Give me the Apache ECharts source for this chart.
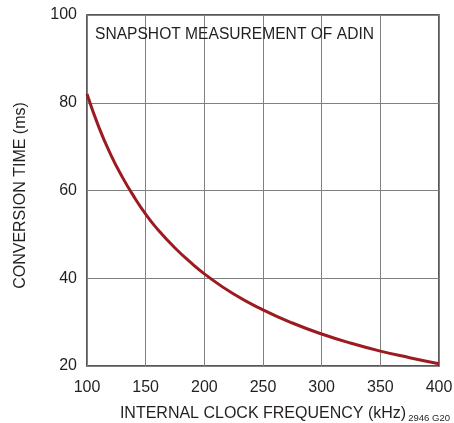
<!DOCTYPE html>
<html>
<head>
<meta charset="utf-8">
<script src="https://cdn.jsdelivr.net/npm/echarts@6/dist/echarts.min.js"></script>
<style>
html, body { margin: 0; padding: 0; background: #fff; }
#chart { width: 454px; height: 423px; }
</style>
</head>
<body>
<div id="chart"></div>
<script>
// clock frequency (kHz) and conversion time (ms)
var freqKHz = [100, 110, 120, 130, 140, 150, 160, 175, 190, 200, 225, 250, 275, 300, 325, 350, 375, 400];
var convTime = [82, 74.5, 68.3, 63.1, 58.6, 54.6, 51.2, 46.9, 43.2, 41, 36.4, 32.8, 29.8, 27.3, 25.2, 23.4, 21.9, 20.5];

var points = [];
for (var i = 0; i < freqKHz.length; i++) {
  points.push([freqKHz[i], convTime[i]]);
}

var font = '"Liberation Sans Narrow", "Liberation Sans", Arial, sans-serif';
var myChart = echarts.init(document.getElementById('chart'));

myChart.setOption({
  animation: false,
  backgroundColor: '#fff',
  grid: {
    left: 87,
    right: 15,
    top: 15,
    bottom: 57,
    outerBoundsMode: 'none',
    containLabel: false,
    show: true,
    borderColor: '#231f20',
    borderWidth: 1.5
  },
  title: {
    text: 'SNAPSHOT MEASUREMENT OF ADIN',
    left: 90,
    top: 22,
    textStyle: { fontFamily: font, fontSize: 15.6, fontWeight: 'normal', color: '#231f20' }
  },
  graphic: [{
    type: 'text',
    right: 4,
    top: 413,
    style: { text: '2946 G20', font: '9.5px ' + font, fill: '#231f20' }
  }],
  xAxis: {
    type: 'value',
    min: 100,
    max: 400,
    interval: 50,
    name: 'INTERNAL CLOCK FREQUENCY (kHz)',
    nameLocation: 'middle',
    nameGap: 40,
    nameTextStyle: { fontFamily: font, fontSize: 16, color: '#231f20' },
    axisLine: { show: false },
    axisTick: { show: false },
    axisLabel: { margin: 14, fontFamily: font, fontSize: 16, color: '#231f20' },
    splitLine: { lineStyle: { color: '#808080', width: 1 } }
  },
  yAxis: {
    type: 'value',
    min: 20,
    max: 100,
    interval: 20,
    name: 'CONVERSION TIME (ms)',
    nameLocation: 'middle',
    nameGap: 58,
    nameTextStyle: { fontFamily: font, fontSize: 16, color: '#231f20', padding: [0, 10, 0, 0] },
    axisLine: { show: false },
    axisTick: { show: false },
    axisLabel: { margin: 10, fontFamily: font, fontSize: 16, color: '#231f20' },
    splitLine: { lineStyle: { color: '#808080', width: 1 } }
  },
  series: [{
    type: 'line',
    data: points,
    smooth: true,
    showSymbol: false,
    lineStyle: { color: '#9b1b20', width: 3 }
  }]
});
</script>
</body>
</html>
